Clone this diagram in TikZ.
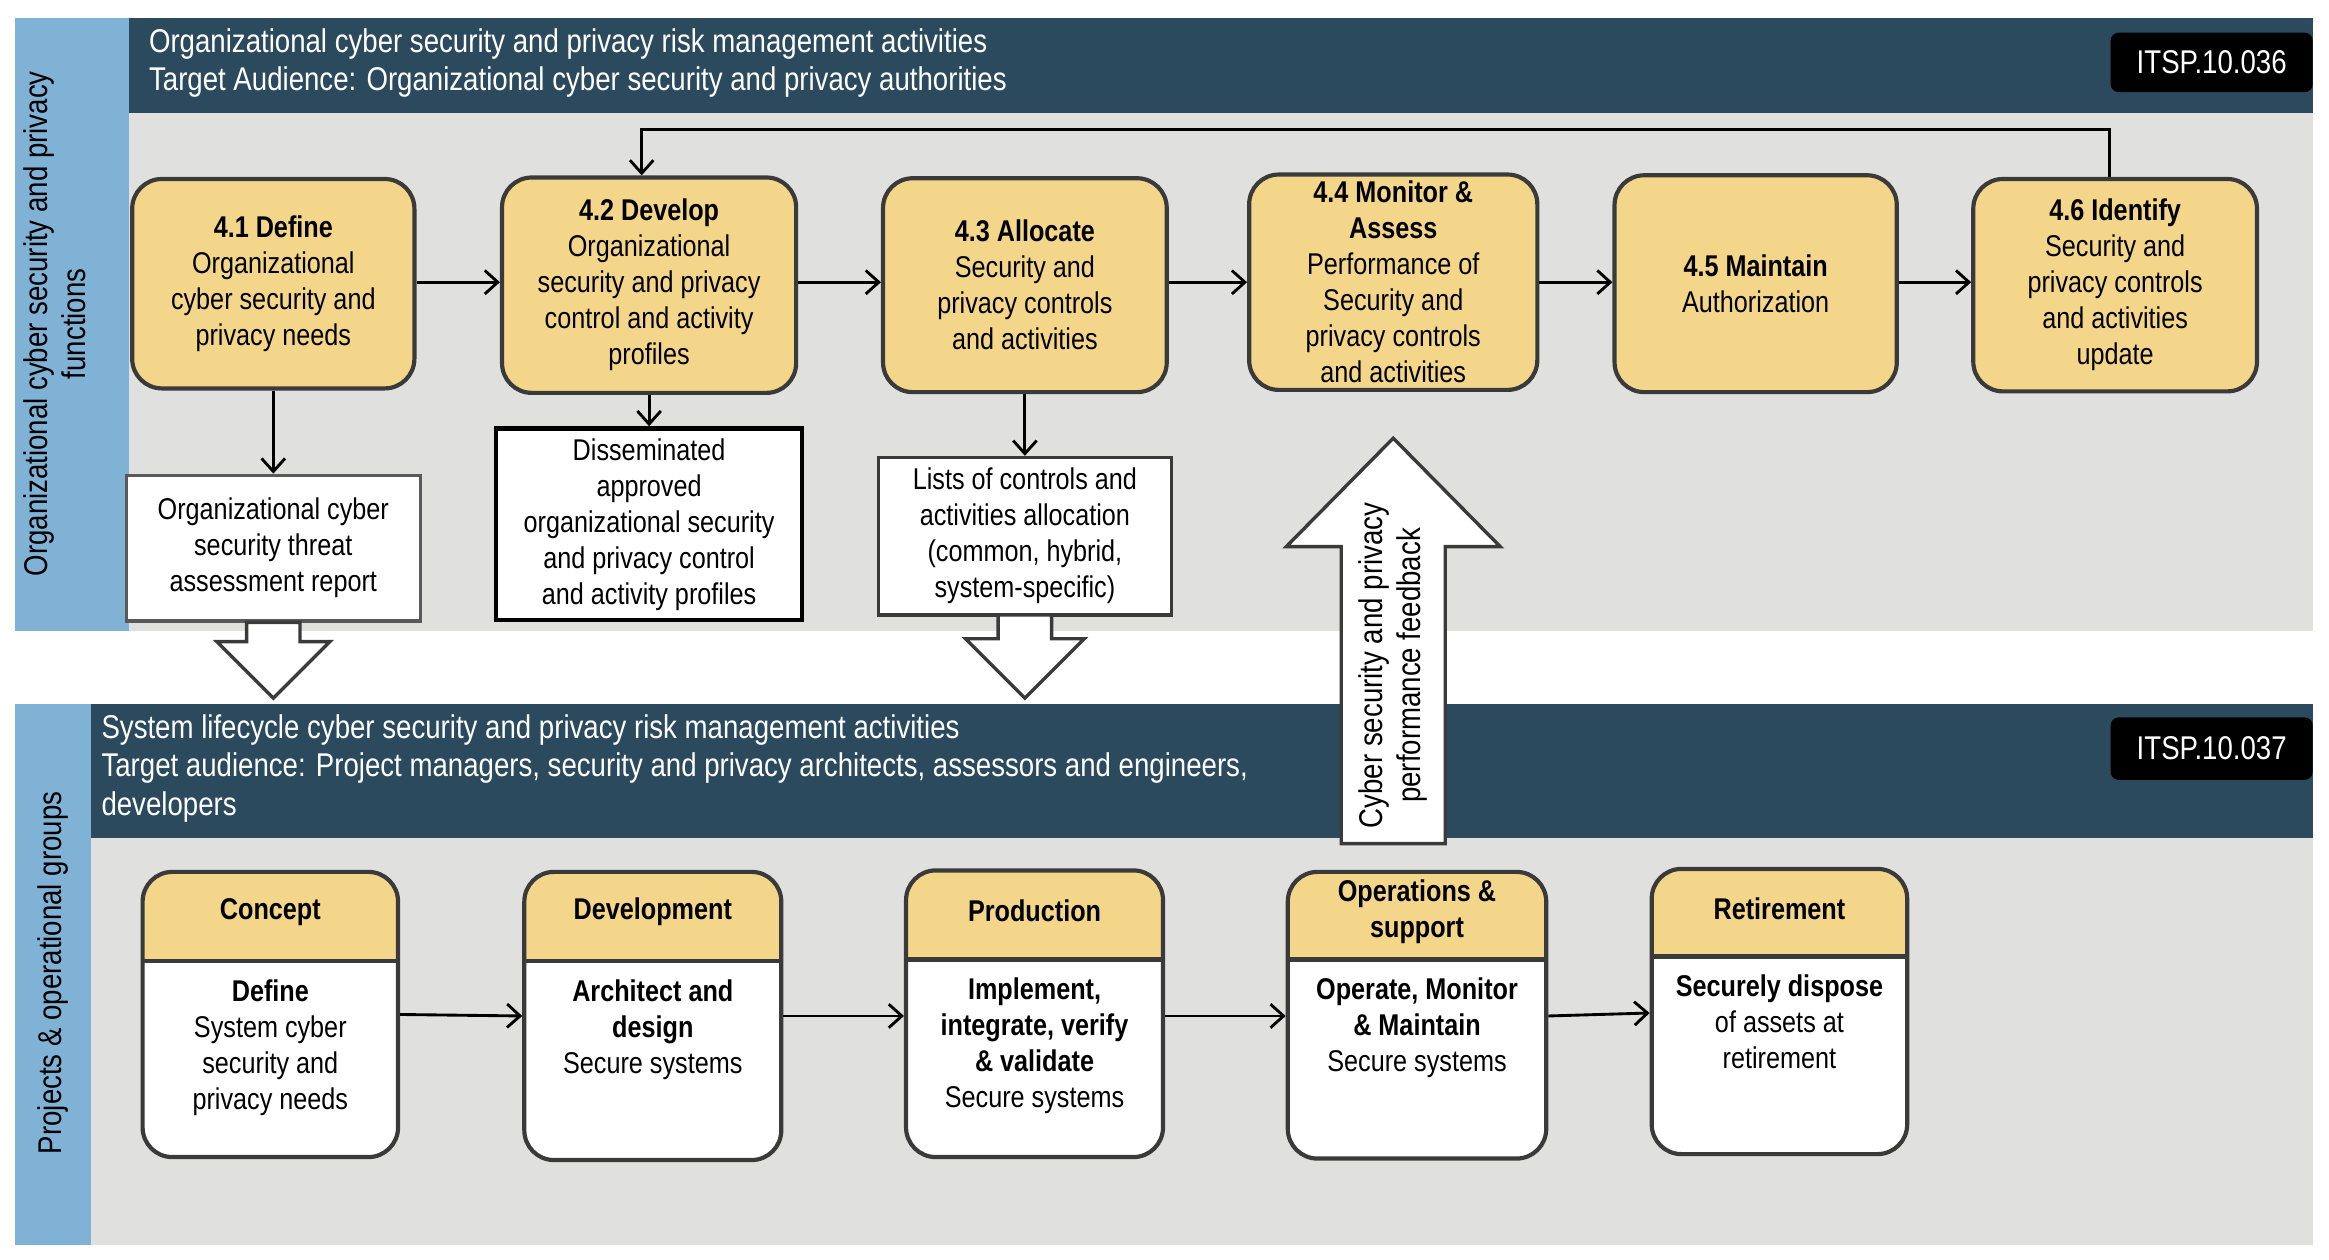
\documentclass[tikz,border=0pt]{standalone}
\usepackage{fontspec}
\setmainfont{Liberation Sans}[FakeStretch=0.84]
\usetikzlibrary{arrows.meta}
\definecolor{bandgray}{HTML}{E0E1DF}
\definecolor{stripblue}{HTML}{7FB2D5}
\definecolor{headblue}{HTML}{2B4A5E}
\definecolor{ylw}{HTML}{F3D68A}
\definecolor{edge}{HTML}{3A3A3A}
\begin{document}
\begin{tikzpicture}[x=0.02cm,y=-0.02cm,
  every node/.style={font=\fontsize{11.5}{13.8}\selectfont, align=center, inner sep=0pt},
  big/.style={font=\fontsize{12.6}{14.6}\selectfont},
  ybox/.style={draw=edge, line width=1.6pt, fill=ylw, rounded corners=0.4cm},
  obox/.style={draw=#1, fill=white},
  arr/.style={-{Straight Barb[length=5pt,width=9pt]}, line width=1.1pt, black},
  hollow/.style={draw=edge, line width=1.3pt, fill=white, line join=miter}]
\useasboundingbox (0,0) rectangle (1568,848);
% top band
\fill[bandgray] (10,12) rectangle (1557,425);
\fill[stripblue] (10,12) rectangle (87,425);
\fill[headblue] (87,12) rectangle (1557,76);
\node[big, text=white, anchor=north west, align=left] (th) at (100,19) {Organizational cyber security and privacy risk management activities\\Target Audience: Organizational cyber security and privacy authorities};
\node[big, fill=black, text=white, rounded corners=3pt, minimum width=136*0.02cm, minimum height=40*0.02cm] (itsp1) at (1489,42) {ITSP.10.036};
\node[big, rotate=90] (tl) at (37,218) {Organizational cyber security and privacy\\functions};
% bottom band
\fill[bandgray] (10,474) rectangle (1557,838);
\fill[stripblue] (10,474) rectangle (61,838);
\fill[headblue] (61,474) rectangle (1557,564);
\node[big, text=white, anchor=north west, align=left] (bh) at (68,481) {System lifecycle cyber security and privacy risk management activities\\Target audience: Project managers, security and privacy architects, assessors and engineers,\\developers};
\node[big, fill=black, text=white, rounded corners=3pt, minimum width=136*0.02cm, minimum height=42*0.02cm] (itsp2) at (1489,504) {ITSP.10.037};
\node[big, rotate=90] (bl) at (36,655) {Projects \& operational groups};
% top boxes
\node[ybox, minimum width=190*0.02cm, minimum height=141*0.02cm] (b1) at (184,191) {\textbf{4.1 Define}\\Organizational\\cyber security and\\privacy needs};
\node[ybox, minimum width=198*0.02cm, minimum height=145*0.02cm] (b2) at (437,192) {\textbf{4.2 Develop}\\Organizational\\security and privacy\\control and activity\\profiles};
\node[ybox, minimum width=191*0.02cm, minimum height=144*0.02cm] (b3) at (690,192) {\textbf{4.3 Allocate}\\Security and\\privacy controls\\and activities};
\node[ybox, minimum width=194*0.02cm, minimum height=145*0.02cm] (b4) at (938,190) {\textbf{4.4 Monitor \&}\\\textbf{Assess}\\Performance of\\Security and\\privacy controls\\and activities};
\node[ybox, minimum width=190*0.02cm, minimum height=146*0.02cm] (b5) at (1182,191) {\textbf{4.5 Maintain}\\Authorization};
\node[ybox, minimum width=191*0.02cm, minimum height=143*0.02cm] (b6) at (1424,192) {\textbf{4.6 Identify}\\Security and\\privacy controls\\and activities\\update};
\draw[arr] (b1.east |- 0,190) -- (b2.west |- 0,190);
\draw[arr] (b2.east |- 0,190) -- (b3.west |- 0,190);
\draw[arr] (b3.east |- 0,190) -- (b4.west |- 0,190);
\draw[arr] (b4.east |- 0,190) -- (b5.west |- 0,190);
\draw[arr] (b5.east |- 0,190) -- (b6.west |- 0,190);
\coordinate (fb1) at (1420,87);
\coordinate (fb2) at (432,87);
\draw[arr] (b6.north -| fb1) -- (fb1) -- (fb2) -- (b2.north -| fb2);
% outputs
\node[obox=gray!70!black, line width=1.3pt, minimum width=198*0.02cm, minimum height=98*0.02cm] (o1) at (184,369) {Organizational cyber\\security threat\\assessment report};
\node[obox=black, line width=1.8pt, minimum width=206*0.02cm, minimum height=129*0.02cm] (o2) at (437,353) {Disseminated\\approved\\organizational security\\and privacy control\\and activity profiles};
\node[obox=edge, line width=1.3pt, minimum width=197*0.02cm, minimum height=106*0.02cm] (o3) at (690,361) {Lists of controls and\\activities allocation\\(common, hybrid,\\system-specific)};
\draw[arr] (b1.south -| o1) -- (o1.north);
\draw[arr] (b2.south -| o2) -- (o2.north);
\draw[arr] (b3.south -| o3) -- (o3.north);
% hollow arrows
\draw[hollow] (166,419) -- (202,419) -- (202,432) -- (222,432) -- (184,470) -- (146,432) -- (166,432) -- cycle;
\draw[hollow] (672,414) -- (708,414) -- (708,430) -- (730,430) -- (690,470) -- (650,430) -- (672,430) -- cycle;
\draw[hollow] (903,568) -- (973,568) -- (973,368) -- (1010,368) -- (938,295) -- (866,368) -- (903,368) -- cycle;
\node[big, rotate=90] (fbt) at (938,448) {Cyber security and privacy\\performance feedback};
% bottom boxes
\newcommand\lcbox[8]{% name, x1,y1,x2,y2,split,title,body
  \begin{scope}
    \clip[rounded corners=0.4cm] (#2,#3) rectangle (#4,#5);
    \fill[white] (#2,#3) rectangle (#4,#5);
    \fill[ylw] (#2,#3) rectangle (#4,#6);
  \end{scope}
  \draw[edge, line width=1.6pt] (#2,#6) -- (#4,#6);
  \node[draw=edge, line width=1.6pt, rounded corners=0.4cm, minimum width={(#4-#2)*0.02cm}, minimum height={(#5-#3)*0.02cm}] (#1) at ({(#2+#4)/2},{(#3+#5)/2}) {};
  \node[anchor=center] (#1t) at ({(#2+#4)/2},{(#3+#6)/2-3}) {#7};
  \node[anchor=north] (#1b) at ({(#2+#4)/2},{#6+12}) {#8};
}
\lcbox{c1}{96}{587}{268}{779}{647}{\textbf{Concept}}{\textbf{Define}\\System cyber\\security and\\privacy needs}
\lcbox{c2}{353}{587}{526}{781}{647}{\textbf{Development}}{\textbf{Architect and}\\\textbf{design}\\Secure systems}
\lcbox{c3}{610}{586}{783}{779}{646}{\textbf{Production}}{\textbf{Implement,}\\\textbf{integrate, verify}\\\textbf{\& validate}\\Secure systems}
\lcbox{c4}{867}{587}{1041}{780}{646}{\textbf{Operations \&}\\\textbf{support}}{\textbf{Operate, Monitor}\\\textbf{\& Maintain}\\Secure systems}
\lcbox{c5}{1112}{585}{1284}{777}{644}{\textbf{Retirement}}{\textbf{Securely dispose}\\of assets at\\retirement}
\draw[arr] (c1.east |- 0,683) -- (c2.west |- 0,684);
\draw[arr] (c2.east |- 0,684) -- (c3.west |- 0,684);
\draw[arr] (c3.east |- 0,684) -- (c4.west |- 0,684);
\draw[arr] (c4.east |- 0,684) -- (c5.west |- 0,682);
\end{tikzpicture}
\end{document}
